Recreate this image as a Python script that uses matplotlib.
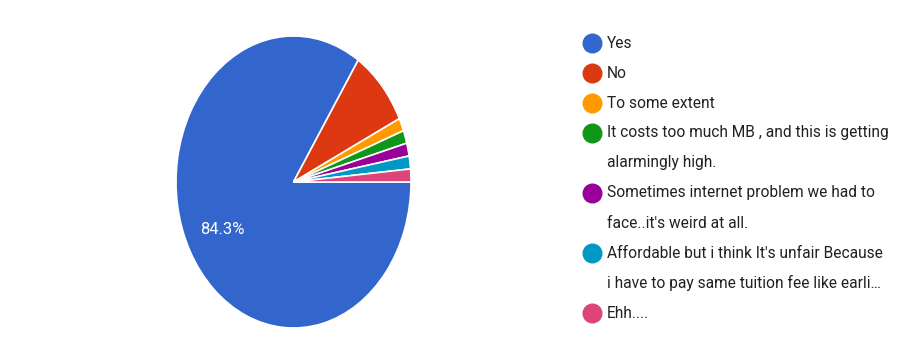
import matplotlib
from matplotlib import pyplot as plt

matplotlib.use('Agg')

labels = [
    "Yes",
    "No",
    "To some extent",
    "It costs too much MB , and this is getting\nalarmingly high.",
    "Sometimes internet problem we had to\nface..it's weird at all.",
    "Affordable but i think It's unfair Because\ni have to pay same tuition fee like earli…",
    "Ehh....",
]
counts = [59, 6, 1, 1, 1, 1, 1]
colors = ['#3366cc', '#dc3912', '#ff9900', '#109618', '#990099', '#0099c6', '#dd4477']

plt.rcParams['font.family'] = ['Roboto', 'DejaVu Sans']

W, H = 908, 363
fig = plt.figure(figsize=(W / 100, H / 100), dpi=100)

# pie is stretched vertically in the reference
px_left, px_right, px_top, px_bottom = 176, 411, 36, 328
ax = fig.add_axes([px_left / W, 1 - px_bottom / H,
                   (px_right - px_left) / W, (px_bottom - px_top) / H])


def pct_label(p):
    return f'{p:.1f}%' if p > 20 else ''


wedges, _, autotexts = ax.pie(
    counts, colors=colors, startangle=0, counterclock=False,
    autopct=pct_label, pctdistance=0.69,
    wedgeprops=dict(edgecolor='white', linewidth=1.2),
    textprops=dict(color='white', fontsize=12),
)
ax.set_aspect('auto')
ax.set_xlim(-1, 1)
ax.set_ylim(-1, 1)

# legend drawn in pixel coordinates
lg = fig.add_axes([0, 0, 1, 1])
lg.set_xlim(0, W)
lg.set_ylim(H, 0)
lg.axis('off')

y = 43
line_h = 30
for lab, col in zip(labels, colors):
    lg.scatter([592], [y], s=180, color=col, zorder=3)
    for k, line in enumerate(lab.split('\n')):
        lg.text(607, y + k * line_h, line, fontsize=11.2, color='#212121',
                va='center', ha='left')
    y += line_h * len(lab.split('\n'))

fig.savefig('out.png', dpi=100)
